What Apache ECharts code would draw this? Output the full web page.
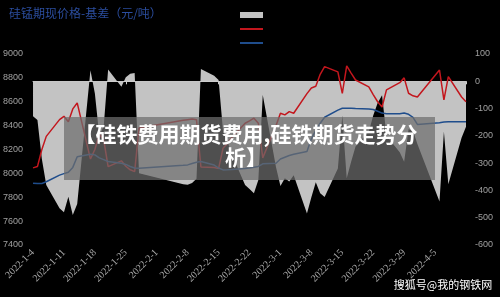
<!DOCTYPE html>
<html>
<head>
<meta charset="utf-8">
<script src="https://cdn.jsdelivr.net/npm/echarts@6/dist/echarts.min.js"></script>
<style>
html, body { margin: 0; padding: 0; background: #000; }
#chart { width: 500px; height: 297px; }
</style>
</head>
<body>
<div id="chart"></div>
<script>
// trading days (only these have values), Excel-like date axis in between
var tradeDates = [
  '2022-1-4', '2022-1-5', '2022-1-6', '2022-1-7', '2022-1-10', '2022-1-11', '2022-1-12', '2022-1-13', '2022-1-14',
  '2022-1-17', '2022-1-18', '2022-1-19', '2022-1-20', '2022-1-21', '2022-1-24', '2022-1-25', '2022-1-26', '2022-1-27', '2022-1-28',
  '2022-2-7', '2022-2-8', '2022-2-9', '2022-2-10', '2022-2-11', '2022-2-14', '2022-2-15', '2022-2-16', '2022-2-17', '2022-2-18',
  '2022-2-21', '2022-2-22', '2022-2-23', '2022-2-24', '2022-2-25', '2022-2-28', '2022-3-1', '2022-3-2', '2022-3-3', '2022-3-4',
  '2022-3-7', '2022-3-8', '2022-3-9', '2022-3-10', '2022-3-11', '2022-3-14', '2022-3-15', '2022-3-16', '2022-3-17', '2022-3-18',
  '2022-3-21', '2022-3-22', '2022-3-23', '2022-3-24', '2022-3-25', '2022-3-28', '2022-3-29', '2022-3-30', '2022-3-31', '2022-4-1',
  '2022-4-6', '2022-4-7', '2022-4-8', '2022-4-11', '2022-4-12'
]
// red line
var spotPrice = [
  8046, 8057, 8200, 8310, 8450, 8478, 8433, 8540, 8590,
  8120, 8200, 8330, 8280, 8057, 8105, 8060, 8030, 8015, 8380,
  8445, 8450, 8455, 8450, 8054, 8050, 8040, 8210, 8250, 8300,
  8420, 8440, 8462, 8420, 8130, 8400, 8504, 8490, 8517, 8504,
  8668, 8715, 8730, 8830, 8894, 8850, 8671, 8900, 8840, 8782,
  8725, 8660, 8600, 8556, 8700, 8760, 8800, 8671, 8650, 8640,
  8866, 8615, 8810, 8640, 8600
]
// blue line
var futuresPrice = [
  7918, 7915, 7915, 7930, 7985, 7998, 8010, 8050, 8140,
  8160, 8155, 8130, 8115, 8100, 8085, 8075, 8058, 8045, 8043,
  8068, 8071, 8082, 8093, 8099, 8070, 8045, 8029, 8030, 8032,
  8040, 8045, 8052, 8058, 8080, 8085, 8120, 8135, 8150, 8160,
  8183, 8290, 8360, 8420, 8470, 8530, 8545, 8545, 8545, 8543,
  8540, 8535, 8520, 8505, 8500, 8500, 8505, 8495, 8470, 8410,
  8425, 8430, 8433, 8433, 8433
]
// grey area, right axis
var basisValue = [
  -128, -142, -285, -380, -465, -480, -423, -490, -450,
  40, -45, -200, -165, 43, -20, 15, 28, 30, -337,
  -377, -379, -373, -357, 45, 20, 5, -181, -220, -268,
  -380, -395, -410, -362, -50, -315, -384, -355, -367, -344,
  -485, -425, -370, -410, -424, -320, -126, -355, -295, -239,
  -185, -125, -80, -51, -200, -260, -295, -176, -180, -230,
  -441, -185, -377, -207, -167
]

var chart = echarts.init(document.getElementById('chart'))

// calendar days from first to last trade date
var calendarDays = []
var day = new Date(2022, 0, 4)
var lastDay = new Date(2022, 3, 12)
while (day <= lastDay) {
  calendarDays.push(day.getFullYear() + '-' + (day.getMonth() + 1) + '-' + day.getDate())
  day.setDate(day.getDate() + 1)
}
function onCalendar(values) {
  return calendarDays.map(function (c) {
    var i = tradeDates.indexOf(c)
    return i >= 0 ? values[i] : null
  })
}

var option = {
  backgroundColor: '#000',
  animation: false,
  title: {
    text: '硅锰期现价格-基差（元/吨）',
    left: 4,
    top: 2,
    textStyle: {
      color: '#2b4d9e',
      fontSize: 12,
      fontWeight: 'normal',
      fontFamily: 'Noto Sans CJK SC'
    }
  },
  legend: {
    orient: 'vertical',
    left: 234,
    top: 7,
    itemWidth: 23,
    itemHeight: 6,
    itemGap: 8,
    textStyle: { color: '#000', fontSize: 5, lineHeight: 6 },
    data: [
      { name: '基差', icon: 'rect', itemStyle: { color: '#c3c3c3' } },
      { name: '现货价格', itemStyle: { opacity: 0 } },
      { name: '期货价格', itemStyle: { opacity: 0 } }
    ]
  },
  grid: {
    left: 31,
    right: 34,
    top: 54,
    bottom: 52
  },
  xAxis: {
    type: 'category',
    boundaryGap: false,
    data: calendarDays,
    axisLine: { lineStyle: { color: '#d0d0d0', width: 1 } },
    axisTick: {
      length: 3,
      lineStyle: { color: '#d0d0d0' },
      interval: function (i) { return i % 7 === 0 || i === calendarDays.length - 1 }
    },
    axisLabel: {
      rotate: 45,
      color: '#a8a8a8',
      fontSize: 10,
      fontFamily: 'Liberation Serif',
      margin: 6,
      interval: function (i) { return i % 7 === 0 && i < calendarDays.length - 1 }
    },
    splitLine: { show: false }
  },
  yAxis: [{
    type: 'value',
    min: 7400,
    max: 9000,
    interval: 200,
    axisLine: { show: false },
    axisTick: { show: false },
    splitLine: { show: false },
    axisLabel: {
      color: '#a0a0a0', fontSize: 9, fontFamily: 'Liberation Sans', margin: 10,
      formatter: function (v) { return String(v) }
    }
  }, {
    type: 'value',
    min: -600,
    max: 100,
    interval: 100,
    axisLine: { show: false },
    axisTick: { show: false },
    splitLine: { show: false },
    axisLabel: {
      color: '#a0a0a0', fontSize: 9, fontFamily: 'Liberation Sans', margin: 9,
      formatter: function (v) { return String(v) }
    }
  }],
  series: [{
    name: '基差',
    type: 'line',
    yAxisIndex: 1,
    symbol: 'none',
    connectNulls: true,
    itemStyle: { color: '#c3c3c3' },
    lineStyle: { width: 0, color: '#c3c3c3' },
    areaStyle: { color: '#c3c3c3', opacity: 1 },
    data: onCalendar(basisValue)
  }, {
    name: '现货价格',
    type: 'line',
    symbol: 'none',
    connectNulls: true,
    itemStyle: { color: '#c3161d' },
    lineStyle: { width: 1.5, color: '#c3161d' },
    data: onCalendar(spotPrice)
  }, {
    name: '期货价格',
    type: 'line',
    symbol: 'none',
    connectNulls: true,
    itemStyle: { color: '#1f4d8c' },
    lineStyle: { width: 1.5, color: '#1f4d8c' },
    data: onCalendar(futuresPrice)
  }],
  graphic: [{
    type: 'rect',
    z: 100,
    shape: { x: 64, y: 117, width: 371, height: 63 },
    style: { fill: 'rgba(110,110,110,0.72)' }
  }, {
    type: 'text',
    z: 101,
    x: 246,
    y: 146,
    style: {
      text: '【硅铁费用期货费用,硅铁期货走势分\n析】',
      fill: '#fff',
      font: 'bold 21px "Noto Sans CJK SC"',
      align: 'center',
      verticalAlign: 'middle',
      lineHeight: 23
    }
  }, {
    type: 'text',
    z: 101,
    x: 443,
    y: 285,
    style: {
      text: '搜狐号@我的钢铁网',
      fill: '#fff',
      font: '11px "Noto Sans CJK SC"',
      align: 'center',
      verticalAlign: 'middle',
      textShadowColor: 'rgba(0,0,0,0.8)',
      textShadowBlur: 2
    }
  }]
}

chart.setOption(option)
</script>
</body>
</html>
